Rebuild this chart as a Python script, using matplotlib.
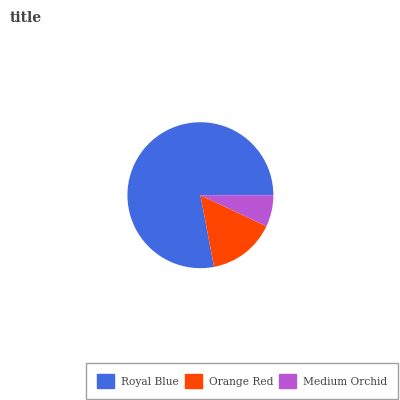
import matplotlib
matplotlib.use("Agg")
import matplotlib.pyplot as plt
from matplotlib.patches import Patch

labels = ["Royal Blue", "Orange Red", "Medium Orchid"]
values = [78, 15, 7]
colors = ["#4169e1", "#ff4500", "#ba55d3"]

plt.rcParams['font.family'] = ['DejaVu Serif']

fig = plt.figure(figsize=(4, 4), dpi=100)
ax = fig.add_axes([0.273, 0.284, 0.456, 0.456])
ax.pie(values, colors=colors, startangle=0, counterclock=True,
       wedgeprops=dict(linewidth=0))
ax.set_aspect("equal")

fig.text(0.025, 0.955, "title", fontsize=10, fontweight="bold", color="#444444",
         va="center", ha="left")

fs = 7.7
handles = [Patch(facecolor=c, edgecolor=c) for c in colors]
leg = fig.legend(handles, labels, loc="lower left", bbox_to_anchor=(0.215, 0.0025),
                 ncol=3, frameon=True, fancybox=False, fontsize=fs,
                 handlelength=12.2 / fs, handleheight=12.2 / fs,
                 handletextpad=5 / fs, columnspacing=4.3 / fs,
                 borderpad=8 / fs, borderaxespad=0,
                 labelcolor="#444444", bbox_transform=fig.transFigure)
leg.get_frame().set_edgecolor("#888888")
leg.get_frame().set_linewidth(1.0)

fig.savefig("out.png", dpi=100)
